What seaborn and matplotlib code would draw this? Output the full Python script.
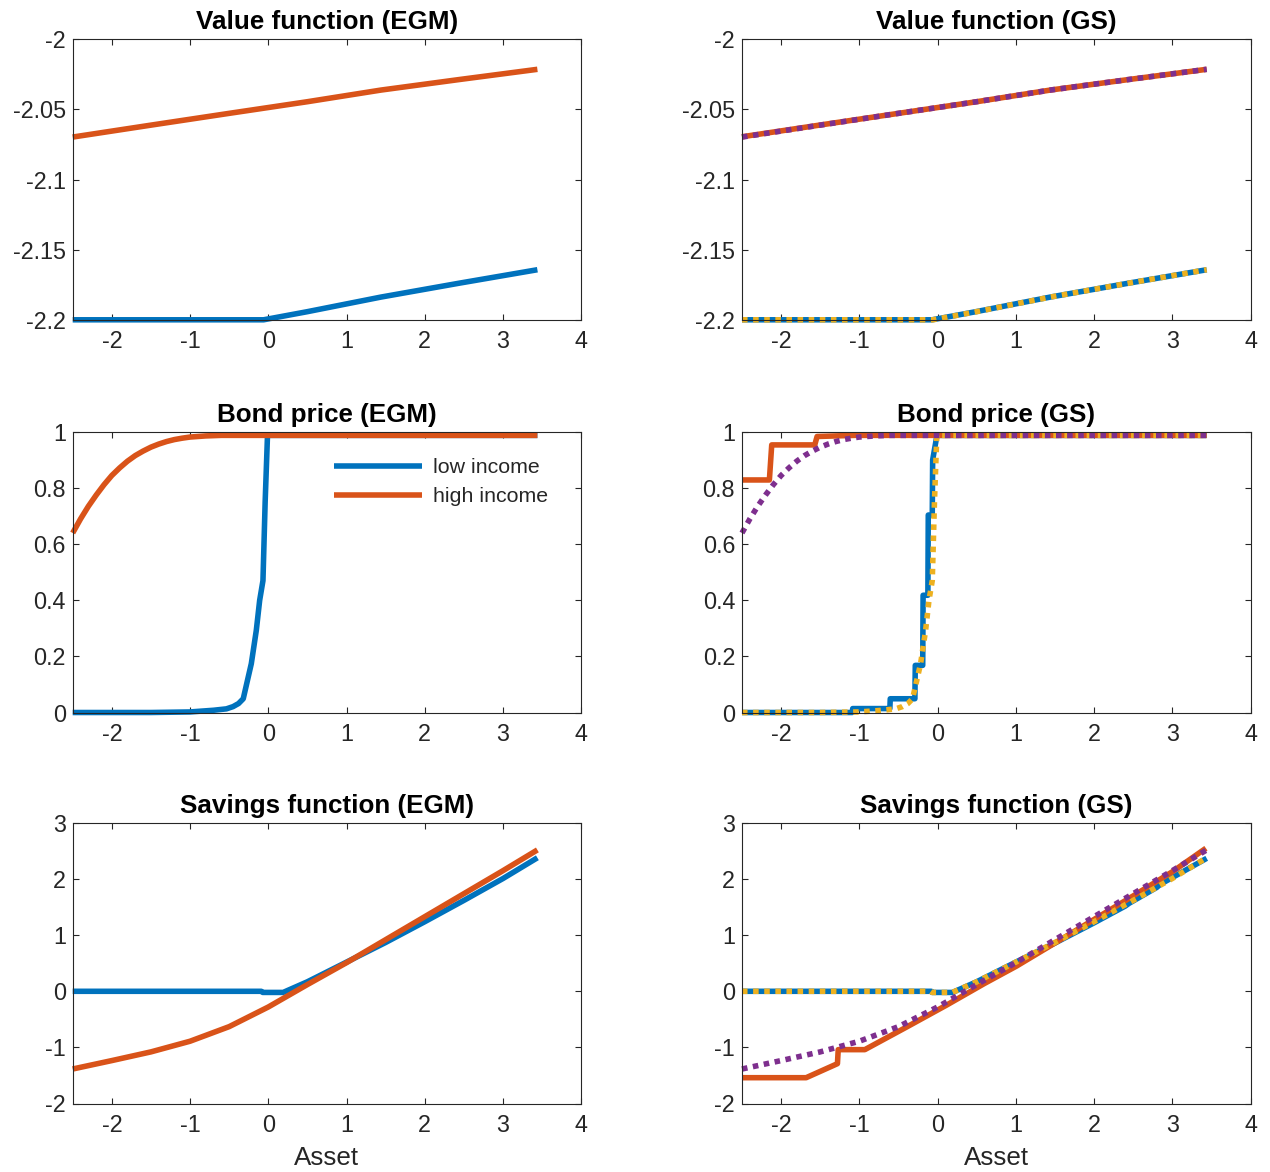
import matplotlib
matplotlib.use("Agg")
import matplotlib.pyplot as plt
from matplotlib.ticker import FuncFormatter
import seaborn as sns

# ---------------- data ----------------
# Value function (EGM)
vf_low_x = [-2.5, -1.5, -0.5, -0.06, 0.5, 1.44, 2.44, 3.44]
vf_low_y = [-2.2, -2.2, -2.2, -2.2, -2.1942, -2.1838, -2.1739, -2.1643]
vf_high_x = [-2.5, -1.5, -0.5, 0.5, 1.44, 2.44, 3.44]
vf_high_y = [-2.0697, -2.0612, -2.0528, -2.0445, -2.0362, -2.0287, -2.0214]
# Value function (GS)
vf_low_gs_x = [-2.5, -1.5, -0.5, -0.07, 0.5, 1.44, 2.44, 3.44]
vf_low_gs_y = [-2.2, -2.2, -2.2, -2.2, -2.1941, -2.1838, -2.1739, -2.1643]
vf_high_gs_x = [-2.5, -1.5, -0.5, 0.5, 1.44, 2.44, 3.44]
vf_high_gs_y = [-2.0695, -2.0611, -2.0528, -2.0445, -2.0362, -2.0287, -2.0214]

# Bond price (EGM)
q_low_x = [-2.5, -1.5, -1.0, -0.85, -0.7, -0.535, -0.45, -0.38, -0.32, -0.217, -0.153,
           -0.11, -0.068, -0.04, -0.01, 3.44]
q_low_y = [0.0, 0.0, 0.002, 0.005, 0.008, 0.013, 0.021, 0.032, 0.049, 0.174, 0.293,
           0.40, 0.47, 0.75, 0.988, 0.988]
q_high_x = [-2.5, -2.4, -2.3, -2.2, -2.1, -2.0, -1.9, -1.8, -1.7, -1.6, -1.5, -1.4, -1.3,
            -1.2, -1.1, -1.0, -0.8, -0.6, 3.44]
q_high_y = [0.640, 0.690, 0.735, 0.775, 0.812, 0.845, 0.872, 0.896, 0.916, 0.932, 0.946,
            0.957, 0.966, 0.973, 0.978, 0.982, 0.986, 0.988, 0.988]
# Bond price (GS)
q_low_gs_x = [-2.5, -1.09, -1.085, -0.61, -0.605, -0.29, -0.285, -0.19, -0.185, -0.124, -0.119,
              -0.068, -0.063, -0.008, 3.44]
q_low_gs_y = [0.0, 0.0, 0.014, 0.014, 0.049, 0.049, 0.168, 0.168, 0.418, 0.418, 0.704,
              0.704, 0.90, 0.988, 0.988]
q_high_gs_x = [-2.5, -2.15, -2.12, -1.57, -1.54, -1.06, 3.44]
q_high_gs_y = [0.829, 0.829, 0.954, 0.954, 0.984, 0.988, 0.988]

# Savings function (EGM)
s_low_x = [-2.5, -0.09, -0.07, 0.19, 0.5, 1.0, 1.5, 2.0, 2.5, 3.0, 3.44]
s_low_y = [0.0, 0.0, -0.02, -0.02, 0.17, 0.52, 0.87, 1.24, 1.62, 2.01, 2.38]
s_high_x = [-2.5, -2.0, -1.5, -1.0, -0.5, 0.0, 0.5, 1.0, 1.5, 2.0, 2.5, 3.0, 3.44]
s_high_y = [-1.385, -1.235, -1.08, -0.89, -0.63, -0.28, 0.12, 0.51, 0.92, 1.33, 1.74, 2.15, 2.52]
# Savings function (GS)
s_low_gs_x = [-2.5, -0.08, -0.07, 0.19, 0.5, 1.0, 1.5, 2.0, 2.4, 2.45, 2.8, 2.85, 3.44]
s_low_gs_y = [0.0, 0.0, -0.02, -0.02, 0.17, 0.52, 0.86, 1.22, 1.52, 1.57, 1.85, 1.91, 2.37]
s_high_gs_x = [-2.5, -1.68, -1.28, -1.27, -0.93, -0.40, 0.11, 0.6, 1.01, 1.5, 2.0, 2.5, 3.0, 3.43]
s_high_gs_y = [-1.54, -1.54, -1.29, -1.04, -1.04, -0.64, -0.25, 0.14, 0.45, 0.86, 1.28, 1.70, 2.13, 2.55]

titles = ["Value function (EGM)", "Value function (GS)",
          "Bond price (EGM)", "Bond price (GS)",
          "Savings function (EGM)", "Savings function (GS)"]
legend_labels = ["low income", "high income"]
x_ticks = [-2, -1, 0, 1, 2, 3, 4]
vf_ticks = [-2.2, -2.15, -2.1, -2.05, -2.0]
q_ticks = [0, 0.2, 0.4, 0.6, 0.8, 1.0]
s_ticks = [-2, -1, 0, 1, 2, 3]

# ---------------- style ----------------
BLUE = "#0072BD"
ORANGE = "#D95319"
YELLOW = "#EDB120"
PURPLE = "#7E2F8E"
AX_COL = "#262626"

sns.set_theme(style="ticks")
plt.rcParams["font.family"] = ["Liberation Sans", "DejaVu Sans"]
plt.rcParams.update({
    "axes.unicode_minus": False,
    "axes.edgecolor": AX_COL,
    "axes.linewidth": 0.8,
    "xtick.color": AX_COL,
    "ytick.color": AX_COL,
    "xtick.labelcolor": AX_COL,
    "ytick.labelcolor": AX_COL,
})

fig = plt.figure(figsize=(12.7, 11.72), dpi=100)
W, H = 1270.0, 1172.0
lefts = [72.7, 742.0]
width = 508.5
tops = [39.3, 432.0, 823.0]
height = 280.5
axes = []
for r in range(3):
    row = []
    for c in range(2):
        ax = fig.add_axes([lefts[c] / W, 1 - (tops[r] + height) / H, width / W, height / H])
        row.append(ax)
    axes.append(row)

LW = 4.0


def draw(ax, x, y, color, dotted=False, label=None):
    kw = dict(x=x, y=y, ax=ax, color=color, linewidth=LW, sort=False, estimator=None,
              clip_on=False)
    if dotted:
        kw["linestyle"] = (0, (1, 1))
        kw["dash_capstyle"] = "butt"
    else:
        kw["solid_capstyle"] = "butt"
        kw["solid_joinstyle"] = "round"
    if label is not None:
        kw["label"] = label
    sns.lineplot(**kw)


# Row 1: value functions
draw(axes[0][0], vf_low_x, vf_low_y, BLUE)
draw(axes[0][0], vf_high_x, vf_high_y, ORANGE)
draw(axes[0][1], vf_low_gs_x, vf_low_gs_y, BLUE)
draw(axes[0][1], vf_high_gs_x, vf_high_gs_y, ORANGE)
draw(axes[0][1], vf_low_x, vf_low_y, YELLOW, dotted=True)
draw(axes[0][1], vf_high_x, vf_high_y, PURPLE, dotted=True)

# Row 2: bond prices
draw(axes[1][0], q_low_x, q_low_y, BLUE, label=legend_labels[0])
draw(axes[1][0], q_high_x, q_high_y, ORANGE, label=legend_labels[1])
draw(axes[1][1], q_low_gs_x, q_low_gs_y, BLUE)
draw(axes[1][1], q_high_gs_x, q_high_gs_y, ORANGE)
draw(axes[1][1], q_low_x, q_low_y, YELLOW, dotted=True)
draw(axes[1][1], q_high_x, q_high_y, PURPLE, dotted=True)

# Row 3: savings
draw(axes[2][0], s_low_x, s_low_y, BLUE)
draw(axes[2][0], s_high_x, s_high_y, ORANGE)
draw(axes[2][1], s_low_gs_x, s_low_gs_y, BLUE)
draw(axes[2][1], s_high_gs_x, s_high_gs_y, ORANGE)
draw(axes[2][1], s_low_x, s_low_y, YELLOW, dotted=True)
draw(axes[2][1], s_high_x, s_high_y, PURPLE, dotted=True)

fmt = FuncFormatter(lambda v, p: "%g" % round(v, 4))
ylims = [(-2.2, -2.0), (0, 1), (-2, 3)]
yticks = [vf_ticks, q_ticks, s_ticks]

for r in range(3):
    for c in range(2):
        ax = axes[r][c]
        ax.set_xlim(-2.5, 4)
        ax.set_ylim(*ylims[r])
        ax.set_xticks(x_ticks)
        ax.set_yticks(yticks[r])
        ax.xaxis.set_major_formatter(fmt)
        ax.yaxis.set_major_formatter(fmt)
        ax.tick_params(direction="in", top=True, right=True, length=4.5, width=0.8,
                       labelsize=16.8)
        ax.tick_params(axis="x", pad=7.5)
        ax.tick_params(axis="y", pad=5)
        for s in ax.spines.values():
            s.set_visible(True)
            s.set_color(AX_COL)
            s.set_linewidth(0.8)
        ax.set_title(titles[r * 2 + c], fontsize=18.7, fontweight="bold", pad=7.5, color="black")
        ax.set_ylabel("")
        if r == 2:
            ax.set_xlabel("Asset", fontsize=18.7, labelpad=6.5, color=AX_COL)
        else:
            ax.set_xlabel("")
        leg = ax.get_legend()
        if leg is not None:
            leg.remove()

axes[1][0].legend(loc="upper left", bbox_to_anchor=(0.513, 0.906), frameon=False,
                  fontsize=15.4, handlelength=4.15, handletextpad=0.5, labelspacing=0.45,
                  borderpad=0, borderaxespad=0)

fig.savefig("out.png", dpi=100)
